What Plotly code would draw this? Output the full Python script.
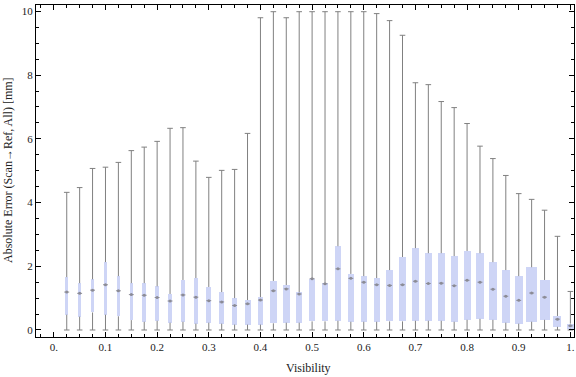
import plotly.graph_objects as go

# ---- data ----
visibility = [round(0.025 * k, 3) for k in range(1, 41)]
whisker_max = [4.32, 4.47, 5.07, 5.11, 5.26, 5.63, 5.74, 5.92, 6.33, 6.35,
               5.30, 4.79, 5.01, 5.04, 6.17, 9.80, 9.99, 9.80, 9.99, 9.99,
               9.99, 9.99, 9.99, 9.99, 9.93, 9.71, 9.25, 7.76, 7.70, 7.17,
               6.98, 6.48, 5.77, 5.38, 4.85, 4.28, 4.10, 3.76, 2.94, 1.21]
q3 = [1.66, 1.47, 1.59, 2.13, 1.69, 1.47, 1.47, 1.37, 1.13, 1.57,
      1.63, 1.35, 1.19, 1.00, 0.94, 1.03, 1.54, 1.41, 1.19, 1.60,
      1.48, 2.63, 1.76, 1.69, 1.63, 1.88, 2.29, 2.57, 2.41, 2.41,
      2.32, 2.48, 2.41, 2.13, 1.88, 1.69, 1.97, 1.57, 0.44, 0.20]
median = [1.19, 1.15, 1.25, 1.42, 1.23, 1.11, 1.09, 1.02, 0.91, 1.10,
          1.03, 0.92, 0.88, 0.77, 0.82, 0.94, 1.23, 1.29, 1.13, 1.61,
          1.45, 1.92, 1.62, 1.50, 1.42, 1.40, 1.42, 1.53, 1.46, 1.47,
          1.39, 1.56, 1.50, 1.28, 1.06, 0.93, 1.16, 1.03, 0.34, 0.13]
q1 = [0.48, 0.42, 0.55, 0.48, 0.43, 0.31, 0.26, 0.29, 0.23, 0.26,
      0.20, 0.23, 0.20, 0.17, 0.17, 0.17, 0.21, 0.23, 0.23, 0.27,
      0.27, 0.29, 0.26, 0.26, 0.26, 0.27, 0.27, 0.29, 0.29, 0.29,
      0.26, 0.32, 0.35, 0.32, 0.23, 0.20, 0.26, 0.32, 0.10, 0.04]
whisker_min = [0.0] * 40

x_tick_vals = [0.0, 0.1, 0.2, 0.3, 0.4, 0.5, 0.6, 0.7, 0.8, 0.9, 1.0]
x_tick_text = ["0.", "0.1", "0.2", "0.3", "0.4", "0.5", "0.6", "0.7", "0.8", "0.9", "1."]
y_tick_vals = [0, 2, 4, 6, 8, 10]
y_tick_text = ["0", "2", "4", "6", "8", "10"]

# box widths (pixels in reference, converted to x units below)
box_px = [2.7, 2.5, 3.0, 3.0, 3.3, 3.3, 4.5, 4.0, 4.3, 4.3,
          4.0, 5.0, 5.3, 5.0, 6.0, 5.7, 6.3, 7.0, 6.3, 6.0,
          6.0, 6.3, 6.3, 6.0, 6.0, 6.3, 6.3, 7.0, 7.0, 7.3,
          7.0, 7.0, 7.3, 7.7, 8.0, 8.0, 10.5, 10.0, 8.0, 7.0]
PX = 1 / 516.5
box_w = [p * PX for p in box_px]

GRAY = "rgb(128,128,128)"
MEDGRAY = "rgb(140,140,150)"
BOXFILL = "rgb(206,213,246)"
FONT = "Liberation Serif"
TXT = "#222222"

fig = go.Figure()

# boxes
fig.add_trace(go.Bar(x=visibility, y=[a - b for a, b in zip(q3, q1)], base=q1,
                     width=box_w, opacity=1,
                     marker=dict(color=BOXFILL, opacity=1, line=dict(width=0)),
                     showlegend=False))

# whiskers: min->q1 and q3->max (outside the box only)
wx, wy = [], []
for x, lo, a, b, hi in zip(visibility, whisker_min, q1, q3, whisker_max):
    wx += [x, x, None, x, x, None]
    wy += [lo, a, None, b, hi, None]
fig.add_trace(go.Scatter(x=wx, y=wy, mode="lines",
                         line=dict(color=GRAY, width=1), hoverinfo="skip",
                         showlegend=False))
# caps
fig.add_trace(go.Scatter(x=visibility + visibility, y=whisker_min + whisker_max,
                         mode="markers",
                         marker=dict(symbol="line-ew", size=4,
                                     line=dict(color=GRAY, width=1)),
                         showlegend=False, hoverinfo="skip"))
# medians
fig.add_trace(go.Scatter(x=visibility, y=median, mode="markers",
                         marker=dict(symbol="circle", size=3, color=MEDGRAY,
                                     line=dict(width=0)),
                         showlegend=False))
fig.add_trace(go.Scatter(x=visibility, y=median, mode="markers",
                         marker=dict(symbol="line-ew", size=3.5,
                                     line=dict(color=MEDGRAY, width=1)),
                         showlegend=False))

axis_common = dict(showgrid=False, zeroline=False, showline=True,
                   linecolor="black", linewidth=1, mirror="allticks",
                   ticks="inside", tickcolor="black", tickwidth=1,
                   automargin=False,
                   tickfont=dict(family=FONT, size=11, color=TXT))

fig.update_xaxes(range=[-0.0345, 1.007], tickmode="array",
                 tickvals=x_tick_vals, ticktext=x_tick_text, ticklen=5,
                 minor=dict(dtick=0.025, tick0=0, ticks="inside", ticklen=3,
                            tickcolor="black", tickwidth=1, showgrid=False),
                 **axis_common)
fig.update_yaxes(range=[-0.22, 10.2], tickmode="array",
                 tickvals=y_tick_vals, ticktext=y_tick_text, ticklen=5,
                 minor=dict(dtick=0.5, tick0=0, ticks="inside", ticklen=3,
                            tickcolor="black", tickwidth=1, showgrid=False),
                 **axis_common)

fig.add_annotation(text="Visibility", xref="paper", yref="paper",
                   x=0.507, y=-0.093, xanchor="center", yanchor="middle",
                   showarrow=False, font=dict(family=FONT, size=12, color=TXT))
fig.add_annotation(text="Absolute Error (Scan\u2192Ref, All) [mm]",
                   xref="paper", yref="paper", x=-0.052, y=0.503,
                   xanchor="center", yanchor="middle", textangle=-90,
                   showarrow=False, font=dict(family=FONT, size=12, color=TXT))

fig.update_layout(width=576, height=377,
                  margin=dict(l=36, r=2, t=5, b=40),
                  plot_bgcolor="white", paper_bgcolor="white",
                  barmode="overlay", bargap=0)

fig.write_html("out.html", config={"displayModeBar": False},
               post_script="document.body.style.margin='0';"
                           "document.body.style.overflow='hidden';")
